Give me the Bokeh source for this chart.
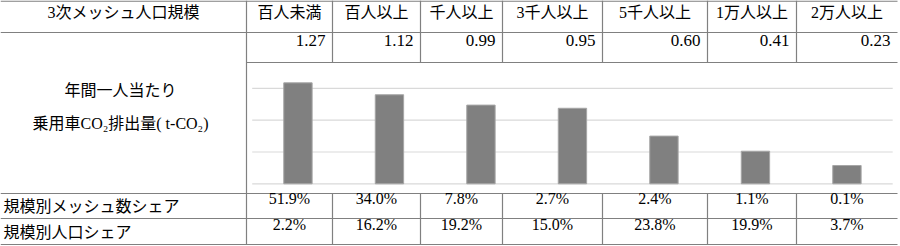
import numpy as np
from bokeh.plotting import figure
from bokeh.models import Range1d
from bokeh.core.properties import value
from bokeh.embed import file_html
from bokeh.resources import INLINE

# ---------------- data ----------------
header_title = "3次メッシュ人口規模"
categories = ["百人未満", "百人以上", "千人以上", "3千人以上", "5千人以上", "1万人以上", "2万人以上"]
co2_per_capita = [1.27, 1.12, 0.99, 0.95, 0.60, 0.41, 0.23]
mesh_share = [51.9, 34.0, 7.8, 2.7, 2.4, 1.1, 0.1]
pop_share = [2.2, 16.2, 19.2, 15.0, 23.8, 19.9, 3.7]
row_labels = ["規模別メッシュ数シェア", "規模別人口シェア"]
chart_label = ["年間一人当たり", "乗用車CO₂排出量( t-CO₂)"]
grid_values = [0.0, 0.4, 0.8, 1.2]

# ---------------- layout (pixels) ----------------
W, H = 900, 246
X0, CW = 251.7, 91.5     # left edge of category axis, px per category
Y0, YU = 183.3, 79.5     # baseline of bars, px per t-CO2
col_edges = [246, 332, 420, 502, 602, 707, 796, 897]
RIGHT = 897

def dx(px):
    return (np.asarray(px, dtype=float) - X0) / CW

def dy(py):
    return (Y0 - np.asarray(py, dtype=float)) / YU

JP = value("Liberation Serif, Noto Sans CJK JP")
NUM = value("Liberation Serif")
LINE = "#808080"

p = figure(width=W, height=H,
           x_range=Range1d(float(dx(0)), float(dx(W))),
           y_range=Range1d(float(dy(H)), float(dy(0))),
           output_backend="svg", toolbar_location=None,
           x_axis_location=None, y_axis_location=None,
           min_border=0, outline_line_color=None,
           background_fill_color="white", border_fill_color="white")
p.xgrid.visible = False
p.ygrid.visible = False

# chart gridlines
n = len(categories)
p.segment(x0=[0] * len(grid_values), x1=[n] * len(grid_values),
          y0=grid_values, y1=grid_values, line_color="#d9d9d9", line_width=1.2)

# bars
xc = np.arange(n) + 0.5
p.vbar(x=xc, top=co2_per_capita, bottom=0, width=0.31,
       fill_color="#808080", line_color="#a6a6a6", line_width=1)

# table lines
h_lines = [(0, RIGHT, 0.7), (0, RIGHT, 32), (246, RIGHT, 62),
           (0, RIGHT, 193), (0, RIGHT, 218), (0, RIGHT, 244)]
p.segment(x0=dx([a for a, b, c in h_lines]), x1=dx([b for a, b, c in h_lines]),
          y0=dy([c for a, b, c in h_lines]), y1=dy([c for a, b, c in h_lines]),
          line_color=LINE, line_width=1.2)
vx0, vy0, vy1 = [246], [0], [244]
for e in col_edges[1:-1]:
    vx0 += [e, e]
    vy0 += [0, 193]
    vy1 += [62, 244]
p.segment(x0=dx(vx0), x1=dx(vx0), y0=dy(vy0), y1=dy(vy1),
          line_color=LINE, line_width=1.2)

centers = [(a + b) / 2 for a, b in zip(col_edges[:-1], col_edges[1:])]
rights = [b - 7 for b in col_edges[1:]]

# header
p.text(x=dx([123]), y=dy([12]), text=[header_title], text_font=JP,
       text_font_size="16px", text_align="center", text_baseline="middle", text_color="#000000")
p.text(x=dx(centers), y=dy([12] * n), text=categories, text_font=JP,
       text_font_size="16px", text_align="center", text_baseline="middle", text_color="#000000")

# values row
p.text(x=dx(rights), y=dy([40] * n), text=[f"{v:.2f}" for v in co2_per_capita], text_font=NUM,
       text_font_size="17px", text_align="right", text_baseline="middle", text_color="#000000")

# chart label
p.text(x=dx([120, 120]), y=dy([90, 123]), text=chart_label, text_font=JP,
       text_font_size="16px", text_align="center", text_baseline="middle", text_color="#000000")

# bottom rows
p.text(x=dx([3, 3]), y=dy([206, 232]), text=row_labels, text_font=JP,
       text_font_size="16px", text_align="left", text_baseline="middle", text_color="#000000")
p.text(x=dx(centers), y=dy([198] * n), text=[f"{v:.1f}%" for v in mesh_share], text_font=NUM,
       text_font_size="16px", text_align="center", text_baseline="middle", text_color="#000000")
p.text(x=dx(centers), y=dy([224] * n), text=[f"{v:.1f}%" for v in pop_share], text_font=NUM,
       text_font_size="16px", text_align="center", text_baseline="middle", text_color="#000000")

open("out.html", "w").write(file_html(p, INLINE))
